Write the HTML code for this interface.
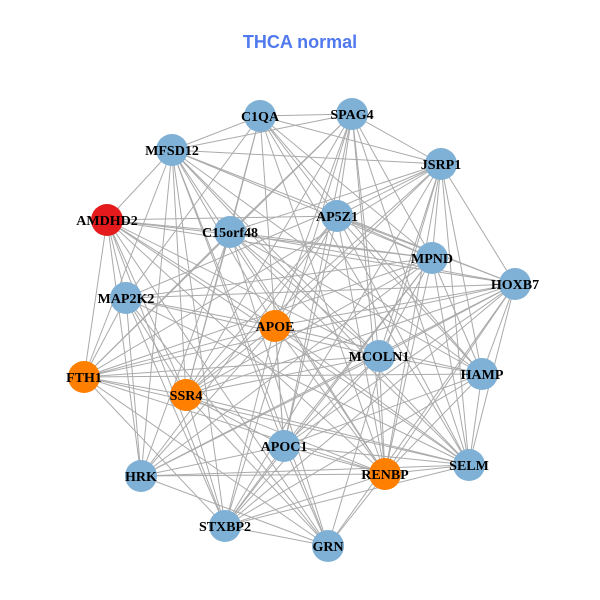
<!DOCTYPE html>
<html><head><meta charset="utf-8"><style>
html,body{margin:0;padding:0;background:#fff;}
svg{display:block;}
</style></head><body>
<svg id="g" width="600" height="600" xmlns="http://www.w3.org/2000/svg">
<rect width="600" height="600" fill="#fff"/>
<text x="300" y="48" text-anchor="middle" font-family="Liberation Sans, sans-serif" font-weight="bold" font-size="18" fill="#5079ee">THCA normal</text>
<g id="edges" stroke="#aaaaaa" stroke-width="1"></g>
<g id="nodes"></g>
</svg>
<script>
var N=[["C1QA",260,116,"b"],["SPAG4",352,114,"b"],["MFSD12",172,150,"b"],["JSRP1",441,164,"b"],
["AMDHD2",107,220,"r"],["C15orf48",230,232,"b"],["AP5Z1",337,216,"b"],["MPND",432,258,"b"],
["HOXB7",515,284,"b"],["MAP2K2",126,298,"b"],["APOE",275,326,"o"],["MCOLN1",379,356,"b"],
["HAMP",482,374,"b"],["FTH1",84,377,"o"],["SSR4",186,395,"o"],["APOC1",284,446,"b"],
["RENBP",385,474,"o"],["SELM",469,465,"b"],["HRK",141,476,"b"],["STXBP2",225,526,"b"],["GRN",328,546,"b"]];
var col={b:"#7fb0d5",o:"#ff7f00",r:"#e41a1c"};
var ns="http://www.w3.org/2000/svg",E=document.getElementById("edges"),G=document.getElementById("nodes");
var s=12345;function rnd(){s=(s*1103515245+12345)%2147483648;return s/2147483648;}
for(var i=0;i<N.length;i++)for(var j=i+1;j<N.length;j++){
 if(rnd()<0.72){var l=document.createElementNS(ns,"line");
 l.setAttribute("x1",N[i][1]);l.setAttribute("y1",N[i][2]);l.setAttribute("x2",N[j][1]);l.setAttribute("y2",N[j][2]);E.appendChild(l);}}
N.forEach(function(n){var c=document.createElementNS(ns,"circle");c.setAttribute("cx",n[1]);c.setAttribute("cy",n[2]);c.setAttribute("r",16);c.setAttribute("fill",col[n[3]]);G.appendChild(c);});
N.forEach(function(n){var t=document.createElementNS(ns,"text");t.setAttribute("x",n[1]);t.setAttribute("y",n[2]+5);t.setAttribute("text-anchor","middle");t.setAttribute("font-family","Liberation Serif, serif");t.setAttribute("font-weight","bold");t.setAttribute("font-size","14");t.textContent=n[0];G.appendChild(t);});
</script>
</body></html>
